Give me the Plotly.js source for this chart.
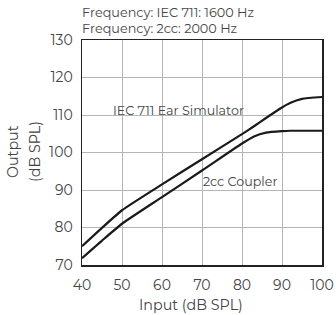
<!DOCTYPE html>
<html><head><meta charset="utf-8">
<script src="https://cdn.plot.ly/plotly-3.0.1.min.js"></script>
<style>html,body{margin:0;padding:0;background:#fff}#c{width:336px;height:315px}</style>
</head><body><div id="c"></div>
<script>
const inputLevels = [40,45,50,60,70,80,83,86,90,92,95,100];
const iecOutput   = [75.0,79.9,84.6,91.5,98.2,104.9,107.0,109.2,112.0,113.2,114.3,114.8];
const ccOutput    = [71.8,76.5,81.0,88.1,95.2,102.4,104.3,105.3,105.7,105.8,105.8,105.8];
const xTicks = [40,50,60,70,80,90,100];
const yTicks = [70,80,90,100,110,120,130];
const seriesNames = ["IEC 711 Ear Simulator","2cc Coupler"];
const notes = ["Frequency: IEC 711: 1600 Hz","Frequency: 2cc: 2000 Hz"];
const xTitle = "Input (dB SPL)";
const yTitleLines = ["Output","(dB SPL)"];

const F = "Montserrat, Lato, 'Noto Sans', sans-serif";
const TC = '#444444';
const line = {color:'#1a1a1a', width:2.2, shape:'spline', smoothing:0.5};
const data = [
  {x:inputLevels, y:iecOutput, mode:'lines', line:line, name:seriesNames[0], hoverinfo:'skip'},
  {x:inputLevels, y:ccOutput, mode:'lines', line:line, name:seriesNames[1], hoverinfo:'skip'}
];
const M = {l:82, r:14, t:40, b:50};
const plotW = 336-M.l-M.r, plotH = 315-M.t-M.b;
const px = v => (v-M.l)/plotW;          // pixel x -> paper
const py = v => (315-M.b-v)/plotH;      // pixel y -> paper
const layout = {
  width:336, height:315,
  margin:M,
  showlegend:false,
  paper_bgcolor:'#fff', plot_bgcolor:'#fff',
  font:{family:F, color:TC},
  xaxis:{range:[40,100], tickvals:xTicks, ticktext:xTicks.map(String),
    showgrid:true, gridcolor:'#b5b5b5', gridwidth:1,
    showline:true, linecolor:'#222', linewidth:1.5, mirror:true,
    ticks:'', ticklabelstandoff:7, tickfont:{size:14, color:TC, family:F}, zeroline:false},
  yaxis:{range:[70,130], tickvals:yTicks, ticktext:yTicks.map(String),
    showgrid:true, gridcolor:'#b5b5b5', gridwidth:1,
    showline:true, linecolor:'#222', linewidth:1.5, mirror:true,
    ticks:'', ticklabelstandoff:5, tickfont:{size:14, color:TC, family:F}, zeroline:false},
  annotations:[
    {x:64, y:111.1, xref:'x', yref:'y', text:seriesNames[0], showarrow:false, font:{size:12.7, color:TC, family:F}},
    {x:79.6, y:92.4, xref:'x', yref:'y', text:seriesNames[1], showarrow:false, font:{size:12.7, color:TC, family:F}},
    {x:px(80), y:py(13), xref:'paper', yref:'paper', text:notes[0], showarrow:false, xanchor:'left', yanchor:'middle', font:{size:12.8, color:TC, family:F}},
    {x:px(80), y:py(29), xref:'paper', yref:'paper', text:notes[1], showarrow:false, xanchor:'left', yanchor:'middle', font:{size:12.8, color:TC, family:F}},
    {x:px(191), y:py(305), xref:'paper', yref:'paper', text:xTitle, showarrow:false, xanchor:'center', yanchor:'middle', font:{size:14.3, color:TC, family:F}},
    {x:px(13), y:py(152), xref:'paper', yref:'paper', text:yTitleLines[0], textangle:-90, showarrow:false, xanchor:'center', yanchor:'middle', font:{size:14.3, color:TC, family:F}},
    {x:px(35), y:py(152), xref:'paper', yref:'paper', text:yTitleLines[1], textangle:-90, showarrow:false, xanchor:'center', yanchor:'middle', font:{size:14.3, color:TC, family:F}}
  ]
};
Plotly.newPlot('c', data, layout, {staticPlot:true, displayModeBar:false});
</script></body></html>
